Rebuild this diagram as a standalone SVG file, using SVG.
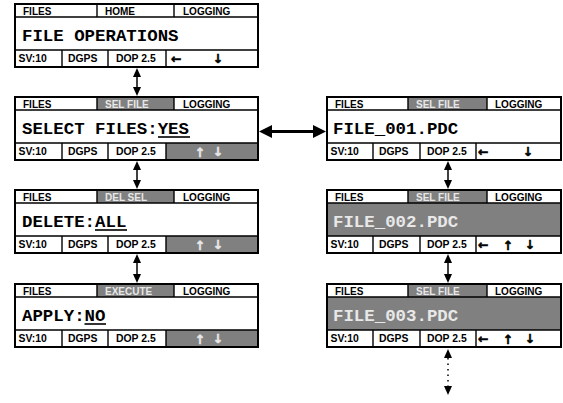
<svg xmlns="http://www.w3.org/2000/svg" width="563" height="403" viewBox="0 0 563 403">
<style>
.bg{fill:#fff}
.hl{fill:#808080}
.frame{fill:none;stroke:#000;stroke-width:2}
.div{stroke:#000;stroke-width:1.4;fill:none}
.hd{font-family:"Liberation Sans",Arial,sans-serif;font-weight:bold;font-size:10px;fill:#000}
.ft{font-family:"Liberation Sans",Arial,sans-serif;font-weight:bold;font-size:10.4px;fill:#000}
.ar{font-family:"DejaVu Sans",sans-serif;font-weight:bold;font-size:12.5px;fill:#000;text-anchor:middle;stroke:#000;stroke-width:0.5}
.bd{font-family:"Liberation Mono","Courier New",monospace;font-weight:bold;font-size:17.4px;fill:#000}
.lt{fill:#e8e8e8}
.ar.lt{stroke:#e8e8e8}
.ul{stroke:#000;stroke-width:1.6}
.conn{stroke:#000;stroke-width:1.5;fill:none}
.thick{stroke:#000;stroke-width:3;fill:none}
.dot{stroke:#000;stroke-width:1.5;fill:none;stroke-dasharray:1.5 4}
</style>
<defs>
<marker id="ah" markerUnits="userSpaceOnUse" markerWidth="9" markerHeight="8" refX="0" refY="4" orient="auto-start-reverse">
<path d="M0,0 L9,4 L0,8 z" fill="#000"/>
</marker>
<marker id="ahb" markerUnits="userSpaceOnUse" markerWidth="13" markerHeight="13" refX="0" refY="6.5" orient="auto-start-reverse">
<path d="M0,0 L13,6.5 L0,13 z" fill="#000"/>
</marker>
</defs>

<g id="panel-file-operations" transform="translate(15,4)">
<rect class="bg" width="243" height="63"/>
<path class="div" d="M0,13H243M0,46H243M82,0V13M159,0V13M47,46V63M93,46V63M151,46V63"/>
<rect class="frame" width="243" height="63"/>
<text class="hd" x="8" y="10.5">FILES</text>
<text class="hd" x="90" y="10.5">HOME</text>
<text class="hd" x="168" y="10.5">LOGGING</text>
<text class="bd" x="7" y="36.5">FILE OPERATIONS</text>
<text class="ft" x="3.5" y="58">SV:10</text>
<text class="ft" x="53" y="58">DGPS</text>
<text class="ft" x="101" y="58">DOP 2.5</text>
<text class="ar" x="161" y="59">←</text>
<text class="ar" x="203" y="58.5">↓</text>
</g>

<g id="panel-select-files" transform="translate(15,97)">
<rect class="bg" width="243" height="63"/>
<rect class="hl" x="82" y="0" width="77" height="13"/>
<rect class="hl" x="151" y="46" width="92" height="17"/>
<path class="div" d="M0,13H243M0,46H243M82,0V13M159,0V13M47,46V63M93,46V63M151,46V63"/>
<rect class="frame" width="243" height="63"/>
<text class="hd" x="8" y="10.5">FILES</text>
<text class="hd lt" x="90" y="10.5">SEL FILE</text>
<text class="hd" x="168" y="10.5">LOGGING</text>
<text class="bd" x="7" y="36.5">SELECT FILES:YES</text>
<line class="ul" x1="143" y1="40" x2="175" y2="40"/>
<text class="ft" x="3.5" y="58">SV:10</text>
<text class="ft" x="53" y="58">DGPS</text>
<text class="ft" x="101" y="58">DOP 2.5</text>
<text class="ar lt" x="185" y="59.5">↑</text>
<text class="ar lt" x="203" y="58.5">↓</text>
</g>

<g id="panel-delete" transform="translate(15,190)">
<rect class="bg" width="243" height="63"/>
<rect class="hl" x="82" y="0" width="77" height="13"/>
<rect class="hl" x="151" y="46" width="92" height="17"/>
<path class="div" d="M0,13H243M0,46H243M82,0V13M159,0V13M47,46V63M93,46V63M151,46V63"/>
<rect class="frame" width="243" height="63"/>
<text class="hd" x="8" y="10.5">FILES</text>
<text class="hd lt" x="90" y="10.5">DEL SEL</text>
<text class="hd" x="168" y="10.5">LOGGING</text>
<text class="bd" x="7" y="36.5">DELETE:ALL</text>
<line class="ul" x1="80" y1="40" x2="112" y2="40"/>
<text class="ft" x="3.5" y="58">SV:10</text>
<text class="ft" x="53" y="58">DGPS</text>
<text class="ft" x="101" y="58">DOP 2.5</text>
<text class="ar lt" x="185" y="59.5">↑</text>
<text class="ar lt" x="203" y="58.5">↓</text>
</g>

<g id="panel-apply" transform="translate(15,284)">
<rect class="bg" width="243" height="63"/>
<rect class="hl" x="82" y="0" width="77" height="13"/>
<rect class="hl" x="151" y="46" width="92" height="17"/>
<path class="div" d="M0,13H243M0,46H243M82,0V13M159,0V13M47,46V63M93,46V63M151,46V63"/>
<rect class="frame" width="243" height="63"/>
<text class="hd" x="8" y="10.5">FILES</text>
<text class="hd lt" x="90" y="10.5">EXECUTE</text>
<text class="hd" x="168" y="10.5">LOGGING</text>
<text class="bd" x="7" y="36.5">APPLY:NO</text>
<line class="ul" x1="69.5" y1="40" x2="91" y2="40"/>
<text class="ft" x="3.5" y="58">SV:10</text>
<text class="ft" x="53" y="58">DGPS</text>
<text class="ft" x="101" y="58">DOP 2.5</text>
<text class="ar lt" x="185" y="59.5">↑</text>
<text class="ar lt" x="203" y="58.5">↓</text>
</g>

<g id="panel-file-001" transform="translate(327,97)">
<rect class="bg" width="234" height="63"/>
<rect class="hl" x="81" y="0" width="79" height="13"/>
<path class="div" d="M0,13H234M0,46H234M81,0V13M160,0V13M46,46V63M93,46V63M149,46V63"/>
<rect class="frame" width="234" height="63"/>
<text class="hd" x="8" y="10.5">FILES</text>
<text class="hd lt" x="89" y="10.5">SEL FILE</text>
<text class="hd" x="168" y="10.5">LOGGING</text>
<text class="bd" x="6" y="36.5">FILE_001.PDC</text>
<text class="ft" x="3.5" y="58">SV:10</text>
<text class="ft" x="52" y="58">DGPS</text>
<text class="ft" x="100" y="58">DOP 2.5</text>
<text class="ar" x="156" y="59">←</text>
<text class="ar" x="201" y="58.5">↓</text>
</g>

<g id="panel-file-002" transform="translate(327,190)">
<rect class="bg" width="234" height="63"/>
<rect class="hl" x="81" y="0" width="79" height="13"/>
<rect class="hl" x="0" y="13" width="234" height="33"/>
<path class="div" d="M0,13H234M0,46H234M81,0V13M160,0V13M46,46V63M93,46V63M149,46V63"/>
<rect class="frame" width="234" height="63"/>
<text class="hd" x="8" y="10.5">FILES</text>
<text class="hd lt" x="89" y="10.5">SEL FILE</text>
<text class="hd" x="168" y="10.5">LOGGING</text>
<text class="bd lt" x="6" y="36.5">FILE_002.PDC</text>
<text class="ft" x="3.5" y="58">SV:10</text>
<text class="ft" x="52" y="58">DGPS</text>
<text class="ft" x="100" y="58">DOP 2.5</text>
<text class="ar" x="156" y="59">←</text>
<text class="ar" x="181" y="59.5">↑</text>
<text class="ar" x="203" y="58.5">↓</text>
</g>

<g id="panel-file-003" transform="translate(327,284)">
<rect class="bg" width="234" height="63"/>
<rect class="hl" x="81" y="0" width="79" height="13"/>
<rect class="hl" x="0" y="13" width="234" height="33"/>
<path class="div" d="M0,13H234M0,46H234M81,0V13M160,0V13M46,46V63M93,46V63M149,46V63"/>
<rect class="frame" width="234" height="63"/>
<text class="hd" x="8" y="10.5">FILES</text>
<text class="hd lt" x="89" y="10.5">SEL FILE</text>
<text class="hd" x="168" y="10.5">LOGGING</text>
<text class="bd lt" x="6" y="36.5">FILE_003.PDC</text>
<text class="ft" x="3.5" y="58">SV:10</text>
<text class="ft" x="52" y="58">DGPS</text>
<text class="ft" x="100" y="58">DOP 2.5</text>
<text class="ar" x="156" y="59">←</text>
<text class="ar" x="181" y="59.5">↑</text>
<text class="ar" x="203" y="58.5">↓</text>
</g>

<g id="connectors">
<line class="conn" x1="137" y1="77" x2="137" y2="87" marker-start="url(#ah)" marker-end="url(#ah)"/>
<line class="conn" x1="137" y1="170" x2="137" y2="180" marker-start="url(#ah)" marker-end="url(#ah)"/>
<line class="conn" x1="137" y1="263" x2="137" y2="274" marker-start="url(#ah)" marker-end="url(#ah)"/>
<line class="thick" x1="272" y1="131.5" x2="313" y2="131.5" marker-start="url(#ahb)" marker-end="url(#ahb)"/>
<line class="conn" x1="448" y1="170" x2="448" y2="180" marker-start="url(#ah)" marker-end="url(#ah)"/>
<line class="conn" x1="448" y1="263" x2="448" y2="274" marker-start="url(#ah)" marker-end="url(#ah)"/>
<line class="dot" x1="448" y1="358" x2="448" y2="386" marker-start="url(#ah)" marker-end="url(#ah)"/>
</g>
</svg>
